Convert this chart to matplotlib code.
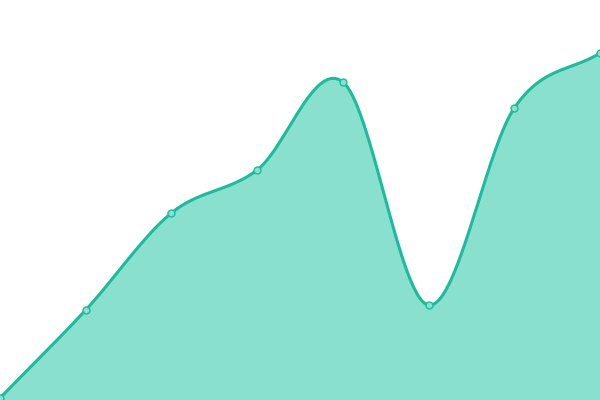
import numpy as np
import matplotlib
matplotlib.use('Agg')
import matplotlib.pyplot as plt

# Dados
categories = [0, 1, 2, 3, 4, 5, 6, 7]
values = [2, 90, 187, 230, 318, 95, 292, 347]

line_color = '#1abc9c'
fill_color = '#8ae0cf'


def catmull_rom(x, y, n=60):
    x = np.asarray(x, dtype=float)
    y = np.asarray(y, dtype=float)
    mx = np.gradient(x)
    my = np.gradient(y)
    xs, ys = [], []
    for i in range(len(x) - 1):
        t = np.linspace(0, 1, n)
        h00 = 2 * t**3 - 3 * t**2 + 1
        h10 = t**3 - 2 * t**2 + t
        h01 = -2 * t**3 + 3 * t**2
        h11 = t**3 - t**2
        xs.append(h00 * x[i] + h10 * mx[i] + h01 * x[i + 1] + h11 * mx[i + 1])
        ys.append(h00 * y[i] + h10 * my[i] + h01 * y[i + 1] + h11 * my[i + 1])
    return np.concatenate(xs), np.concatenate(ys)


xs, ys = catmull_rom(categories, values)

fig = plt.figure(figsize=(6, 4), dpi=100)
ax = fig.add_axes([0, 0, 1, 1])

ax.fill_between(xs, ys, 0, color=fill_color, linewidth=0)
ax.plot(xs, ys, color=line_color, linewidth=2.2, solid_capstyle='round')
ax.plot(categories, values, 'o', markersize=5, markerfacecolor=fill_color,
        markeredgecolor=line_color, markeredgewidth=1)

ax.set_xlim(0, 7)
ax.set_ylim(0, 400)
ax.axis('off')

plt.savefig('out.png', dpi=100)
